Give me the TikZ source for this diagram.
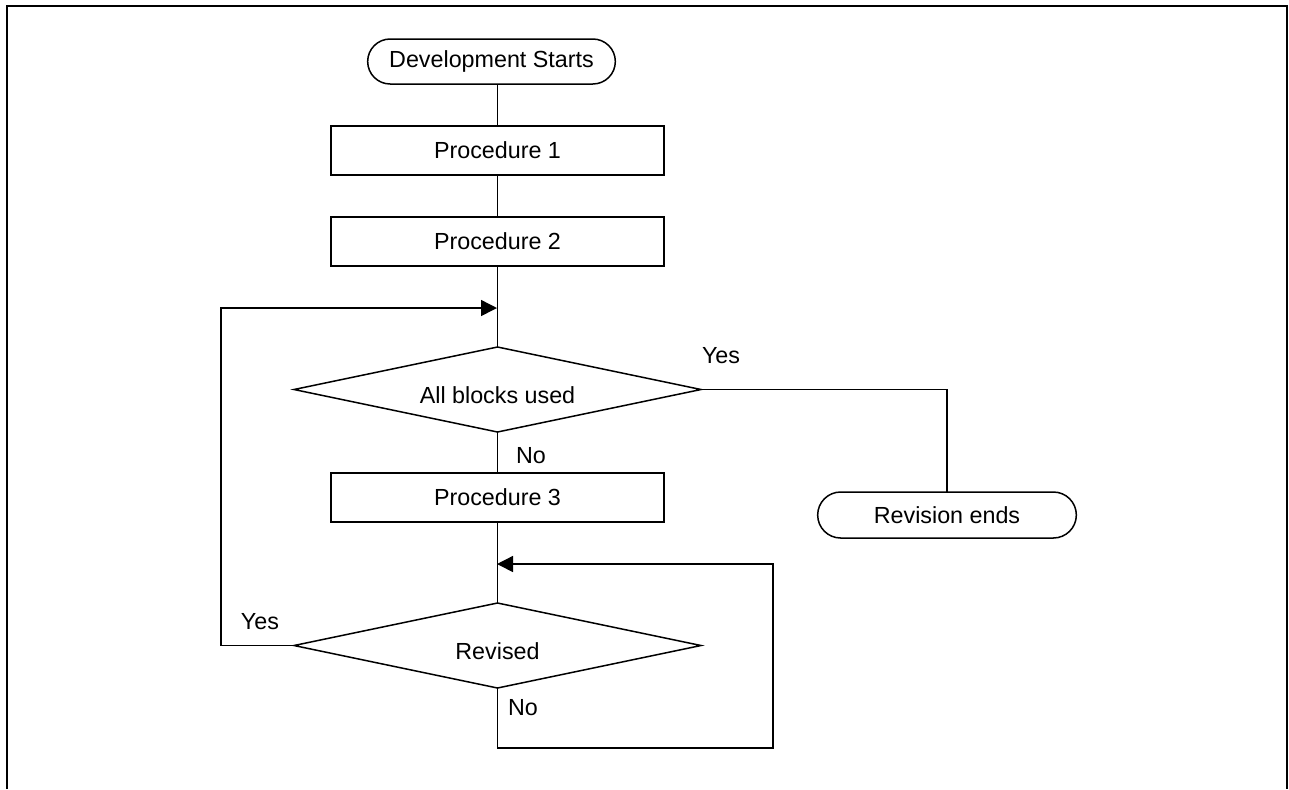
\documentclass[tikz,border=0pt]{standalone}
\usepackage{fontspec}
\setmainfont{Liberation Sans}
\usetikzlibrary{arrows.meta,positioning,shapes.geometric,shapes.misc}
\tikzstyle{block} = [draw, fill=white, rectangle, outer sep=0pt,
minimum height=24.5pt, minimum width=166.5pt]
\tikzstyle{term} = [draw, fill=white, rounded rectangle, outer sep=0pt,
minimum height=22.5pt, minimum width=130.5pt]
\tikzstyle{decision} = [draw, fill=white, diamond, aspect=4.8, outer sep=0pt, inner sep=0pt,
minimum height=42.5pt, minimum width=203.5pt, text height=14pt, text depth=0pt]
\tikzstyle{lbl} = [inner sep=0pt]

\begin{document}
\begin{tikzpicture}[x=0.5pt, y=-0.5pt, line width=0.75pt,
	font=\fontsize{11.65}{14}\selectfont, >={Triangle[length=8pt,width=8pt]}]
	\useasboundingbox (0,0) rectangle (1289,789);
	\draw [line width=1.25pt] (7,789) -- (7,6) -- (1287,6) -- (1287,789);
	
	\node [term] (Start) at (491.5,61.5) {Development Starts};
	\node [block, below=21pt of Start, xshift=3pt] (Proc1) {Procedure 1};
	\node [block, below=21pt of Proc1] (Proc2) {Procedure 2};
	\node [decision, below=40.5pt of Proc2] (Used) {All blocks used};
	\node [block, below=20.5pt of Used] (Proc3) {Procedure 3};
	\node [decision, below=40.5pt of Proc3] (Revised) {Revised};
	\node [term, minimum width=136pt, minimum height=23pt] (RevEnd) at (947,515) {Revision ends};
	
	\coordinate (JoinA) at (497,308);
	\coordinate (LoopL) at (221,308);
	\coordinate (JoinB) at (497,564);
	\coordinate (LoopR) at (773,564);
	
	\node [lbl] (YesUsed) at (721,356) {Yes};
	\node [lbl] (NoUsed) at (531,456) {No};
	\node [lbl] (YesRev) at (260,622) {Yes};
	\node [lbl] (NoRev) at (523,708) {No};
	
	\draw (Proc1.north |- Start.south) -- (Proc1);
	\draw (Proc1) -- (Proc2);
	\draw (Proc2) -- (Used);
	\draw (Used) -- (Proc3);
	\draw (Proc3) -- (Revised);
	\draw (Used.east) -| (RevEnd);
	\draw [->] (Revised.west) -| (LoopL) -- (JoinA);
	\draw [->] (Revised.south) -- ++(0,-30pt) -| (LoopR) -- (JoinB);
	
\end{tikzpicture}
\end{document}
